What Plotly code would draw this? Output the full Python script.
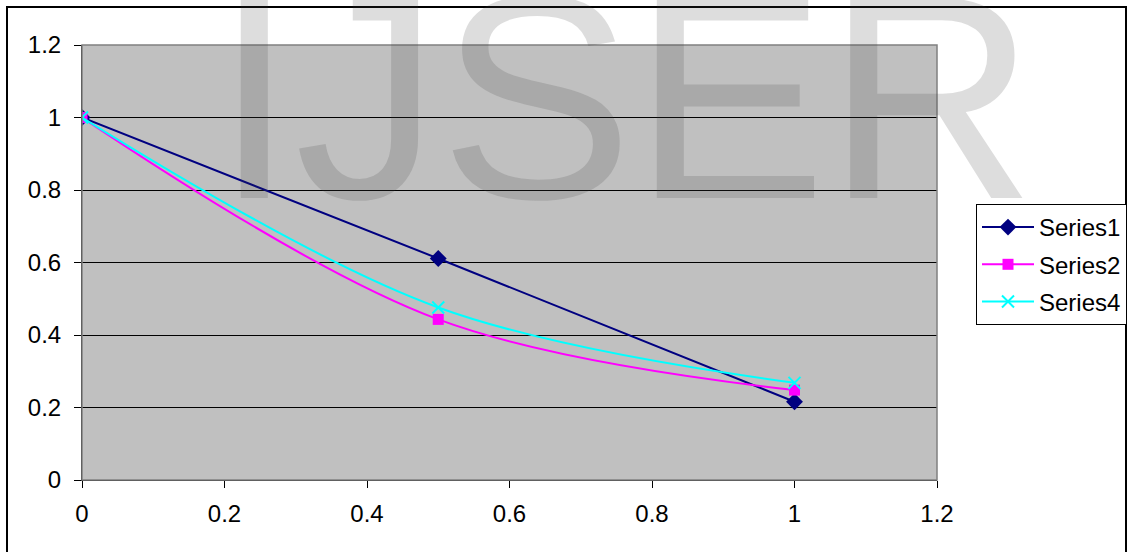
import plotly.graph_objects as go

x_vals = [0, 0.5, 1]
series1 = [1.0, 0.611, 0.216]
series2 = [1.0, 0.443, 0.248]
series4 = [1.0, 0.476, 0.268]
names = ["Series1", "Series2", "Series4"]

FONT = "Liberation Sans, Arial, sans-serif"
L, R, T, B = 82, 191, 45, 72
W, H = 1128, 552
pw, ph = W - L - R, H - T - B

def px(xp):
    return (xp - L) / pw

def py(yp):
    return (H - B - yp) / ph

fig = go.Figure()
fig.add_trace(go.Scatter(x=x_vals, y=series1, name=names[0], mode="lines+markers",
                         line=dict(color="#000080", width=2),
                         marker=dict(symbol="diamond", size=13, color="#000080"),
                         legendgroup="a"))
fig.add_trace(go.Scatter(x=x_vals, y=series2, name=names[1], mode="lines+markers",
                         line=dict(color="#ff00ff", width=2, shape="spline"),
                         marker=dict(symbol="square", size=11, color="#ff00ff"),
                         legendgroup="b"))
fig.add_trace(go.Scatter(x=x_vals, y=series4, name=names[2], mode="lines+markers",
                         line=dict(color="#00ffff", width=2, shape="spline"),
                         marker=dict(symbol="x-thin", size=12, color="#00ffff",
                                     line=dict(color="#00ffff", width=2)),
                         legendgroup="c"))

axis_common = dict(range=[0, 1.2], dtick=0.2, tick0=0, ticks="outside", ticklen=7,
                   tickcolor="#000", tickwidth=1, showline=True, linecolor="#000",
                   linewidth=1, zeroline=False, tickfont=dict(family=FONT, size=24, color="#000"))
fig.update_xaxes(**axis_common, showgrid=False, ticklabelstandoff=5)
fig.update_yaxes(**axis_common, showgrid=True, gridcolor="#000", gridwidth=1,
                 ticklabelstandoff=8)

fs_w = 290
fig.update_layout(
    width=W, height=H,
    margin=dict(l=L, r=R, t=T, b=B, autoexpand=False),
    paper_bgcolor="white", plot_bgcolor="#c0c0c0",
    font=dict(family=FONT, size=24, color="#000"),
    showlegend=True,
    legend=dict(x=px(976), xanchor="left", y=py(204), yanchor="top",
                bordercolor="#000", borderwidth=1, bgcolor="white",
                font=dict(family=FONT, size=24), tracegroupgap=3,
                traceorder="grouped", itemwidth=52),
    shapes=[
        dict(type="rect", xref="paper", yref="paper", x0=0, x1=1, y0=0, y1=1,
             line=dict(color="#808080", width=1.5), fillcolor="rgba(0,0,0,0)", layer="above"),
        dict(type="rect", xref="paper", yref="paper", x0=px(7), x1=px(1126),
             y0=py(570), y1=py(7), line=dict(color="#000", width=2),
             fillcolor="rgba(0,0,0,0)", layer="above"),
    ],
    annotations=[
        dict(text="IJSER", xref="paper", yref="paper", x=px(625), y=py(97),
             xanchor="center", yanchor="middle", showarrow=False,
             font=dict(family=FONT, size=fs_w, color="rgba(60,60,60,0.175)")),
    ],
)

fig.write_html("out.html", config={"displayModeBar": False},
               post_script="document.body.style.margin='0';document.body.style.overflow='hidden';")
